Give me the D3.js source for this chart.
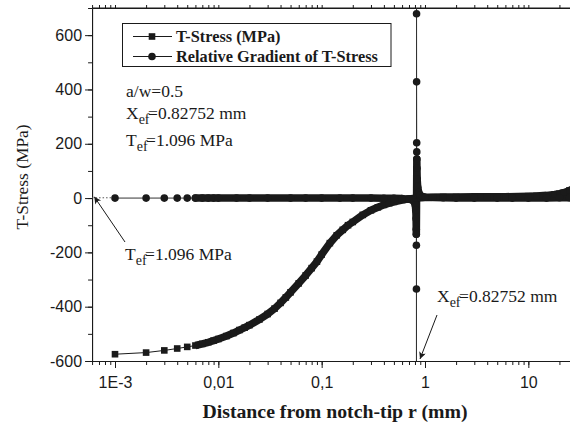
<!DOCTYPE html>
<html><head><meta charset="utf-8">
<script src="https://cdn.jsdelivr.net/npm/d3@7"></script>
<style>
html,body{margin:0;padding:0;background:#fff;}
svg{display:block;}
.serif{font-family:"Liberation Serif","Times New Roman",Times,serif;}
.sans{font-family:"Liberation Sans",Arial,Helvetica,sans-serif;}
</style></head>
<body>
<svg id="chart" width="570" height="424"></svg>
<script>
// ---- data ----
const tStressR = [0.001,0.002,0.003,0.004,0.005,0.006,0.007,0.008,0.009,0.01,0.012,0.014,0.016,0.018,0.02,0.025,0.03,0.035,0.04,0.045,0.05,0.06,0.07,0.08,0.09,0.1,0.12,0.14,0.16,0.18,0.2,0.25,0.3,0.35,0.4,0.45,0.5,0.6,0.7,0.8,0.8275,0.9,1,1.2,1.5,2,3,4,5,6,8,10,12,15,18,20,22,25,28];
const tStressV = [-575,-569,-561,-554,-548,-543,-537,-531,-525,-519,-508,-497,-486,-477,-468,-447,-427,-407,-386,-366,-347,-314,-285,-258,-234,-208,-166,-137,-117,-100,-88,-62,-45,-34,-25,-19,-14,-7,-3,-1,0,1,2,3,4,4,5,5,5,5,6,7,8,10,13,16,20,28,38];

const gradR = [0.001,0.002,0.003,0.004,0.005,0.006,0.007,0.008,0.009,0.01,0.015,0.02,0.03,0.05,0.07,0.1,0.15,0.2,0.3,0.4,0.5,0.6,0.7,0.76,0.79,0.805,0.815,0.82,0.823,0.8245,0.8255,0.8265,0.8272,0.8278,0.8285,0.8295,0.8315,0.8325,0.8335,0.836,0.84,0.85,0.87,0.9,0.95,1,1.5,2,3,5,7,10,15,20,25,28];
const gradV = [0,0,0,0,0,0,0,0,0,0,0,0,0,0,0,0,0,0,0,-1,-1,-2,-4,-8,-15,-25,-45,-75,-115,-133,-174,-335,-20000,20000,679,428,204,170,144,110,70,40,20,10,5,3,1,0,0,0,0,0,0,1,1,1];

const xMajorTicks = [0.001,0.01,0.1,1,10];
const xTickLabels = ["1E-3","0,01","0,1","1","10"];
const yMajorTicks = [-600,-400,-200,0,200,400,600];
const yMinorTicks = [-600,-500,-400,-300,-200,-100,0,100,200,300,400,500,600,700];
const seriesNames = ["T-Stress (MPa)","Relative Gradient of T-Stress"];
const xEf = 0.82752, tEf = 1.096;

// ---- scales ----
const svg = d3.select("#chart");
const decade = 103.33;
const xLeft = 115 + decade*Math.log10(6e-4/1e-3);
const xRight = 425 + decade*Math.log10(30);
const x = d3.scaleLog().domain([6e-4,30]).range([xLeft,xRight]);
const y = d3.scaleLinear().domain([-600,700]).range([361,8]);
const ink = "#1a1a1a";

const defs = svg.append("defs");
defs.append("clipPath").attr("id","clip")
  .append("rect").attr("x",xLeft).attr("y",8).attr("width",xRight-xLeft).attr("height",353);
const arrowDef = defs.append("marker").attr("id","arr")
  .attr("viewBox","0 0 10 10").attr("refX",10).attr("refY",5)
  .attr("markerWidth",9).attr("markerHeight",7).attr("orient","auto-start-reverse")
  .attr("markerUnits","userSpaceOnUse");
arrowDef.append("path").attr("d","M0,0 L10,5 L0,10 L2.5,5 Z").attr("fill",ink);

// ---- axes ----
const minorX = [];
for (let e=-4; e<=1; e++) for (let k=1;k<=9;k++){ const v=k*Math.pow(10,e); if(v>=6e-4 && v<=30) minorX.push(v); }

const gx = svg.append("g").attr("transform","translate(0,361)");
gx.call(d3.axisBottom(x).tickValues(minorX).tickSize(4).tickFormat(""));
gx.call(g=>g.select(".domain").remove());
const gx2 = svg.append("g").attr("transform","translate(0,361)")
  .call(d3.axisBottom(x).tickValues(xMajorTicks).tickSize(7).tickPadding(9).tickSizeOuter(0)
    .tickFormat((d,i)=>xTickLabels[i]));
gx2.selectAll("text").attr("class","sans").attr("font-size","16px").attr("fill",ink);

svg.append("g").attr("transform","translate(0,8)")
  .call(d3.axisTop(x).tickValues(minorX).tickSize(3).tickFormat("").tickSizeOuter(0));

svg.append("g").attr("transform",`translate(${xLeft},0)`)
  .call(d3.axisLeft(y).tickValues(yMinorTicks).tickSize(4).tickFormat("").tickSizeOuter(0));
const gy2 = svg.append("g").attr("transform",`translate(${xLeft},0)`)
  .call(d3.axisLeft(y).tickValues(yMajorTicks).tickSize(7).tickPadding(3).tickSizeOuter(0)
    .tickFormat(d=>String(d)));
gy2.selectAll("text").attr("class","sans").attr("font-size","16px").attr("fill",ink);
svg.selectAll(".tick line, .domain").attr("stroke",ink);
svg.selectAll(".tick text").attr("font-family",null);

// ---- series ----
const plot = svg.append("g").attr("clip-path","url(#clip)");
const tData = tStressR.map((r,i)=>({r, v:tStressV[i]}));
const gData = gradR.map((r,i)=>({r, v:gradV[i]}));
const line = d3.line().x(d=>x(d.r)).y(d=>y(d.v));

plot.append("line").attr("x1",x(6e-4)).attr("x2",x(0.001)).attr("y1",y(tEf)).attr("y2",y(tEf))
  .attr("stroke","#555").attr("stroke-dasharray","1.5,2");

plot.append("path").attr("d",line(gData)).attr("fill","none").attr("stroke","#333").attr("stroke-width",1);
plot.append("path").attr("d",line(tData)).attr("fill","none").attr("stroke",ink).attr("stroke-width",1);

plot.append("path").attr("d",line(tData.filter(d=>d.r>=0.006)))
  .attr("fill","none").attr("stroke",ink).attr("stroke-width",7.5).attr("stroke-linejoin","round");
plot.append("path").attr("d",line(gData.filter(d=>d.r>=0.006 && Math.abs(d.v)<=150)))
  .attr("fill","none").attr("stroke",ink).attr("stroke-width",7.5).attr("stroke-linejoin","round").attr("stroke-linecap","round");

plot.selectAll(".sq").data(tData).enter().append("rect")
  .attr("x",d=>x(d.r)-3.3).attr("y",d=>y(d.v)-3.3).attr("width",6.6).attr("height",6.6).attr("fill",ink);
plot.selectAll(".ci").data(gData).enter().append("circle")
  .attr("cx",d=>x(d.r)).attr("cy",d=>y(d.v)).attr("r",3.8).attr("fill",ink);

svg.append("line").attr("x1",xLeft).attr("x2",xRight).attr("y1",8).attr("y2",8).attr("stroke",ink);

// ---- legend ----
const lg = svg.append("g");
lg.append("rect").attr("x",122.5).attr("y",23.5).attr("width",268.5).attr("height",43)
  .attr("fill","#fff").attr("stroke",ink);
[0,1].forEach(i=>{
  const yy = 36.5 + i*20;
  lg.append("line").attr("x1",133).attr("x2",172).attr("y1",yy).attr("y2",yy).attr("stroke",ink);
  if(i===0) lg.append("rect").attr("x",148.7).attr("y",yy-3.3).attr("width",6.6).attr("height",6.6).attr("fill",ink);
  else lg.append("circle").attr("cx",152).attr("cy",yy).attr("r",3.8).attr("fill",ink);
  lg.append("text").attr("class","serif").attr("x",176).attr("y",yy+5.5).attr("font-weight","bold")
    .attr("font-size","16.3px").attr("fill",ink).text(seriesNames[i]);
});

// ---- annotations ----
function subText(xp, yp, main, sub, rest){
  const t = svg.append("text").attr("class","serif").attr("x",xp).attr("y",yp).attr("font-size","17.5px").attr("fill",ink);
  t.append("tspan").text(main);
  t.append("tspan").attr("font-size","14px").attr("dy",5).text(sub);
  t.append("tspan").attr("dy",-5).attr("dx",-1.5).text(rest);
}
svg.append("text").attr("class","serif").attr("x",126).attr("y",97).attr("font-size","17.5px").attr("fill",ink).text("a/w=0.5");
subText(126,119,"X","ef","=0.82752 mm");
subText(126,146,"T","ef","=1.096 MPa");
subText(125,260,"T","ef","=1.096 MPa");
subText(437,302,"X","ef","=0.82752 mm");

svg.append("line").attr("x1",125).attr("y1",242).attr("x2",x(6.3e-4)).attr("y2",y(tEf)-1)
  .attr("stroke",ink).attr("stroke-width",1).attr("marker-end","url(#arr)");
svg.append("line").attr("x1",437).attr("y1",315).attr("x2",x(xEf)+3.5).attr("y2",y(-600)-2)
  .attr("stroke",ink).attr("stroke-width",1).attr("marker-end","url(#arr)");

// ---- axis titles ----
svg.append("text").attr("class","serif").attr("x",335).attr("y",418).attr("text-anchor","middle")
  .attr("font-weight","bold").attr("font-size","19.8px").attr("fill",ink).text("Distance from notch-tip r (mm)");
svg.append("text").attr("class","serif").attr("transform","translate(28,177) rotate(-90)").attr("text-anchor","middle")
  .attr("font-size","17.4px").attr("fill",ink).text("T-Stress (MPa)");
</script>
</body></html>
